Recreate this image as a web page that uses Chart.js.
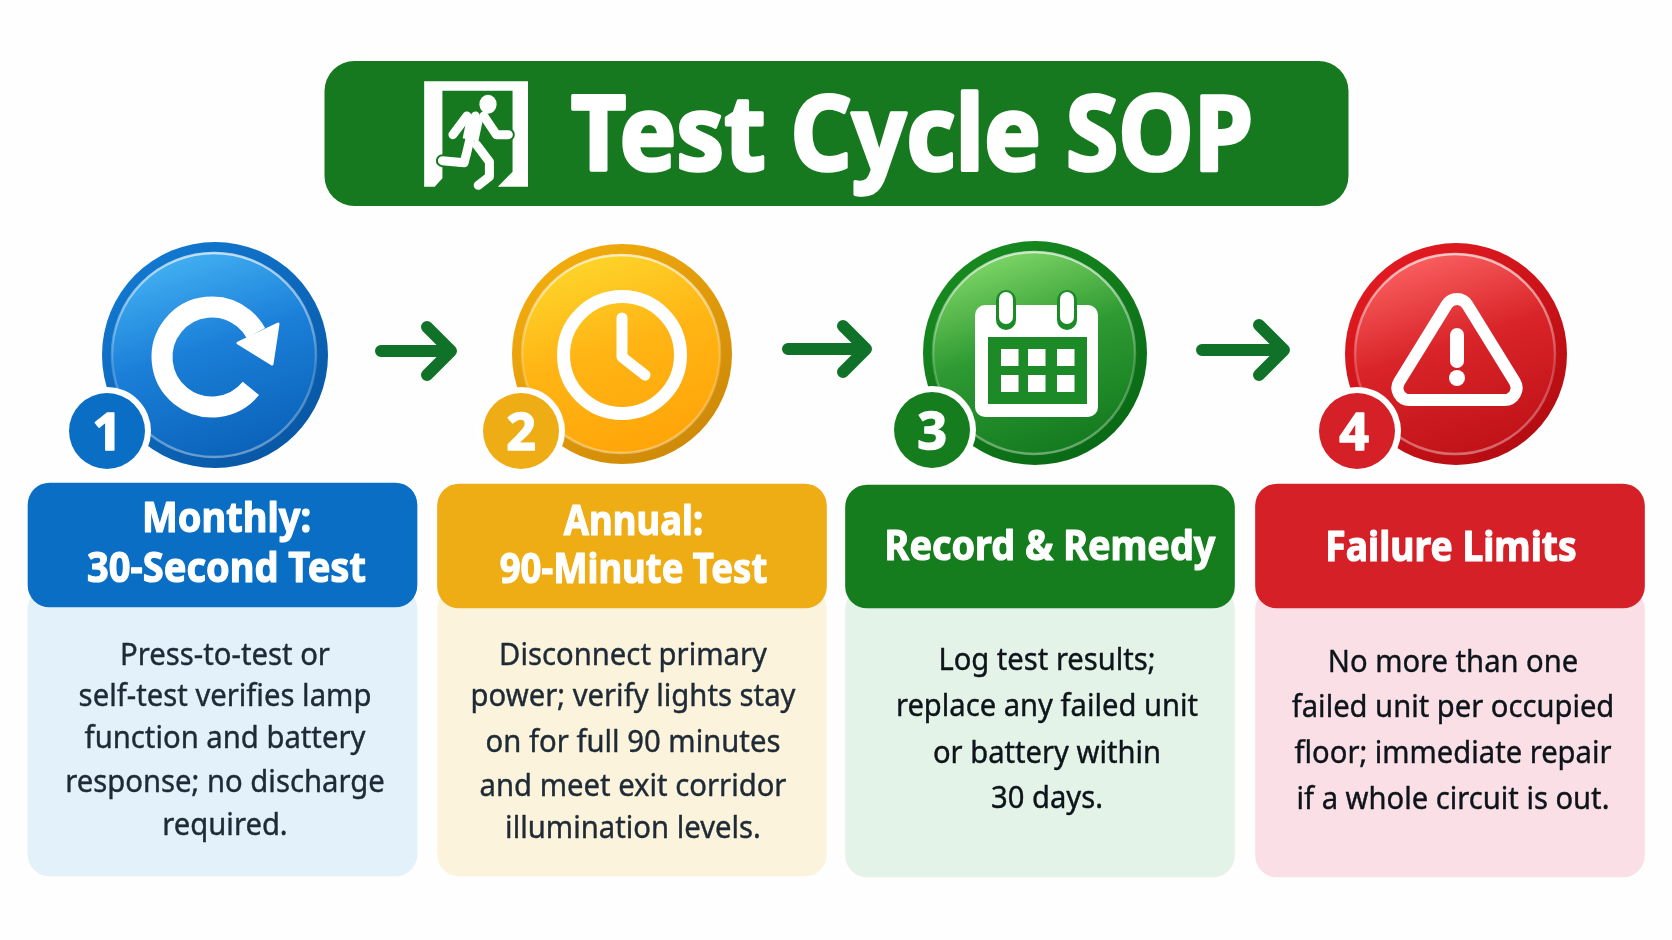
<!DOCTYPE html>
<html>
<head>
<meta charset="utf-8">
<title>Test Cycle SOP</title>
<script src="https://cdn.jsdelivr.net/npm/chart.js@4/dist/chart.umd.min.js"></script>
<style>
  html, body { margin: 0; padding: 0; background: #fefefe; }
  canvas { display: block; }
</style>
</head>
<body>
<canvas id="myChart" width="1672" height="940"></canvas>
<script>
// text
const sheetTitle = 'Test Cycle SOP';
const stepNumbers = ['1', '2', '3', '4'];
const stepTitles = [
  ['Monthly:', '30-Second Test'],
  ['Annual:', '90-Minute Test'],
  ['Record & Remedy'],
  ['Failure Limits'],
];
const stepNotes = [
  ['Press-to-test or', 'self-test verifies lamp', 'function and battery', 'response; no discharge', 'required.'],
  ['Disconnect primary', 'power; verify lights stay', 'on for full 90 minutes', 'and meet exit corridor', 'illumination levels.'],
  ['Log test results;', 'replace any failed unit', 'or battery within', '30 days.'],
  ['No more than one', 'failed unit per occupied', 'floor; immediate repair', 'if a whole circuit is out.'],
];

// layout, the hidden axes run in page units
const panelX = [222.5, 632, 1040, 1450];
const headTop = [483, 484, 485, 484];
const headBottom = [607, 608, 608, 608];
const bodyBottom = [876, 876, 877, 877];
const medalX = [215, 622, 1035, 1456];
const medalY = [355, 354, 353, 354];
const medalR = [113, 110, 112, 111];
const badgeX = [107, 521, 932, 1357];
const badgeY = [431, 431, 430, 431];
const numberNudge = [0, 0, 0, -3];
const arrowStart = [381, 788, 1202];
const arrowTip = [455, 870, 1288];
const arrowY = [351, 349, 350];
const arrowHead = [24, 23, 25];
const bannerX = [836.5];
const bannerY = [61, 206];

const titleBaselines = [[532, 582], [535, 583], [560], [561]];
const titleX = [226.5, 633.5, 1050, 1451];
const titleFit = [0.905, 0.868, 0.90, 0.887];
const noteBaselines = [
  [665, 706, 748, 792, 835],
  [665, 706, 752, 796, 838],
  [670, 716, 763, 808],
  [672, 717, 763, 809],
];
const noteX = [225, 633, 1047, 1453];
const noteFit = [0.975, 0.975, 0.972, 0.972];

// colours
const headColors = ['#0a6fc4', '#eeac15', '#167d1f', '#d42026'];
const bodyColors = ['#e3f1fb', '#fbf3dc', '#e3f3e8', '#fae0e6'];
const noteColors = ['#1e2a35', '#1e2a35', '#0d141a', '#0d141a'];
const rimColors = [['#1177cf', '#0858a6'], ['#f2ab0c', '#cf8a08'], ['#17891f', '#0a6a15'], ['#e01a20', '#b50d12']];
const faceColors = [
  ['#42b0f2', '#1b7fd8', '#0a62b8'],
  ['#fdd52a', '#ffb515', '#ffa408'],
  ['#7ed566', '#2e9a32', '#137a1f'],
  ['#fa6060', '#d92429', '#bf1217'],
];
const bannerColor = '#17791f';
const arrowColor = '#107228';

const ctx = document.getElementById('myChart').getContext('2d');

function barSet(tops, bottoms, colors, radius, order) {
  return {
    type: 'bar',
    data: panelX.map((x, i) => ({ x: x, y: [tops[i], bottoms[i]] })),
    backgroundColor: colors,
    barThickness: 389,
    grouped: false,
    borderSkipped: false,
    borderRadius: radius,
    order: order,
  };
}

// arrows as broken lines: shaft, then head
function arrowPoints() {
  const pts = [];
  arrowStart.forEach((x, i) => {
    const tip = arrowTip[i], y = arrowY[i], h = arrowHead[i];
    pts.push({ x: x, y: y }, { x: tip - 4, y: y }, { x: NaN, y: NaN });
    pts.push({ x: tip - 4 - h, y: y - h }, { x: tip - 4, y: y }, { x: tip - 4 - h, y: y + h }, { x: NaN, y: NaN });
  });
  return pts;
}

function roundedBanner(chart) {
  const { x, y } = chart.scales;
  const c = chart.ctx;
  const left = x.getPixelForValue(bannerX[0] - 512), width = 1024;
  c.fillStyle = bannerColor;
  c.beginPath();
  c.roundRect(left, y.getPixelForValue(bannerY[0]), width, y.getPixelForValue(bannerY[1]) - y.getPixelForValue(bannerY[0]), 30);
  c.fill();
}

function exitIcon(c) {
  // coordinates measured off a crop, so map them back to the page
  const zx = v => v / 1.4255 + 300, zy = v => v / 3 + 40;
  const poly = (pts) => {
    c.beginPath();
    pts.forEach((p, i) => i ? c.lineTo(zx(p[0]), zy(p[1])) : c.moveTo(zx(p[0]), zy(p[1])));
  };
  c.fillStyle = '#fff';
  poly([[177, 124], [325, 124], [325, 440], [282, 440], [303, 395], [303, 152], [203, 152], [203, 415], [192, 440], [177, 440]]);
  c.closePath();
  c.fill();
  c.lineCap = 'round';
  c.lineJoin = 'round';
  const limbs = [
    [[238, 228], [218, 284]],
    [[262, 228], [280, 284], [297, 284]],
    [[250, 228], [238, 335], [234, 368], [203, 362]],
    [[252, 315], [270, 365], [270, 410], [254, 436]],
  ];
  [[bannerColor, 13], ['#fff', 9]].forEach(([color, w]) => {
    c.strokeStyle = color;
    c.lineWidth = w;
    limbs.forEach(l => { poly(l); c.stroke(); });
  });
  c.strokeStyle = '#fff';
  c.lineWidth = 16;
  c.lineCap = 'butt';
  poly([[250, 230], [243, 300]]);
  c.stroke();
  c.beginPath();
  c.ellipse(zx(268), zy(193), 8.6, 9.5, 0, 0, Math.PI * 2);
  c.fill();
}

function refreshIcon(c, cx, cy) {
  c.strokeStyle = '#fff';
  c.fillStyle = '#fff';
  c.lineWidth = 21;
  c.lineCap = 'butt';
  c.beginPath();
  c.arc(cx - 3, cy + 2, 50, 0.68, -0.5 + Math.PI * 2);
  c.stroke();
  c.lineJoin = 'round';
  c.lineWidth = 3;
  c.beginPath();
  c.moveTo(cx + 63, cy - 31);
  c.lineTo(cx + 57, cy + 9);
  c.lineTo(cx + 23, cy - 12);
  c.closePath();
  c.fill();
  c.stroke();
}

function clockIcon(c, cx, cy) {
  c.strokeStyle = '#fff';
  c.lineWidth = 13;
  c.beginPath();
  c.arc(cx, cy + 1, 58.5, 0, Math.PI * 2);
  c.stroke();
  c.lineWidth = 11;
  c.lineCap = 'round';
  c.lineJoin = 'round';
  c.beginPath();
  c.moveTo(cx, cy - 36);
  c.lineTo(cx, cy + 3);
  c.lineTo(cx + 23, cy + 21);
  c.stroke();
}

function calendarIcon(c, cx, cy) {
  c.fillStyle = '#fff';
  c.beginPath();
  c.roundRect(cx - 60, cy - 48, 123, 112, 10);
  c.fill();
  c.fillStyle = '#1c8a26';
  c.fillRect(cx - 47, cy - 16, 99, 67);
  c.fillStyle = '#fff';
  [-34, -7, 22].forEach(dx => [-4, 22].forEach(dy => c.fillRect(cx + dx, cy + dy, 17.5, 17)));
  [-29, 32].forEach(dx => {
    c.beginPath();
    c.roundRect(cx + dx - 10, cy - 63, 20, 40, 10);
    c.fillStyle = '#1c8a26';
    c.fill();
    c.beginPath();
    c.roundRect(cx + dx - 7, cy - 61, 14, 32, 7);
    c.fillStyle = '#fff';
    c.fill();
  });
}

function warningIcon(c, cx, cy) {
  c.strokeStyle = '#fff';
  c.fillStyle = '#fff';
  c.lineWidth = 12;
  c.lineJoin = 'round';
  const top = [cx + 1, cy - 66], right = [cx + 70, cy + 46], left = [cx - 68, cy + 46];
  c.beginPath();
  c.moveTo((top[0] + left[0]) / 2, (top[1] + left[1]) / 2);
  c.arcTo(top[0], top[1], right[0], right[1], 12);
  c.arcTo(right[0], right[1], left[0], left[1], 12);
  c.arcTo(left[0], left[1], top[0], top[1], 12);
  c.closePath();
  c.stroke();
  c.beginPath();
  c.roundRect(cx - 6, cy - 26, 14, 40, 7);
  c.fill();
  c.beginPath();
  c.arc(cx + 1, cy + 24, 8, 0, Math.PI * 2);
  c.fill();
}

const icons = [refreshIcon, clockIcon, calendarIcon, warningIcon];

const sheetArt = {
  id: 'sheetArt',
  beforeDatasetsDraw(chart) {
    chart.ctx.save();
    roundedBanner(chart);
    chart.ctx.restore();
  },
  afterDatasetsDraw(chart) {
    const { x, y } = chart.scales;
    const c = chart.ctx;
    c.save();

    exitIcon(c);
    c.fillStyle = '#fff';
    c.strokeStyle = '#fff';
    c.lineJoin = 'round';
    c.textAlign = 'left';
    c.textBaseline = 'alphabetic';
    c.font = 'bold 104px "Noto Sans"';
    c.lineWidth = 3.5;
    c.fillText(sheetTitle, 571, y.getPixelForValue(170), 682);
    c.strokeText(sheetTitle, 571, y.getPixelForValue(170), 682);

    // medals: rim gradient, face, highlight, icon, then the number badge over the top
    medalX.forEach((mx, i) => {
      const px = x.getPixelForValue(mx), py = y.getPixelForValue(medalY[i]), r = medalR[i];
      const rim = c.createLinearGradient(px - r * 0.6, py - r * 0.8, px + r * 0.6, py + r * 0.8);
      rim.addColorStop(0, rimColors[i][0]);
      rim.addColorStop(1, rimColors[i][1]);
      c.fillStyle = rim;
      c.beginPath();
      c.arc(px, py, r, 0, Math.PI * 2);
      c.fill();

      const face = c.createLinearGradient(px - r * 0.3, py - r * 0.9, px + r * 0.3, py + r * 0.9);
      face.addColorStop(0, faceColors[i][0]);
      face.addColorStop(0.45, faceColors[i][1]);
      face.addColorStop(1, faceColors[i][2]);
      c.fillStyle = face;
      c.beginPath();
      c.arc(px - 1, py, r - 11, 0, Math.PI * 2);
      c.fill();
      const shine = c.createLinearGradient(px, py - r, px, py + r);
      shine.addColorStop(0, 'rgba(255,255,255,0.75)');
      shine.addColorStop(0.55, 'rgba(255,255,255,0.2)');
      shine.addColorStop(1, 'rgba(255,255,255,0.4)');
      c.strokeStyle = shine;
      c.lineWidth = 2.5;
      c.stroke();

      c.save();
      icons[i](c, px, py);
      c.restore();

      const bx = x.getPixelForValue(badgeX[i]), by = y.getPixelForValue(badgeY[i]);
      c.fillStyle = '#fff';
      c.beginPath();
      c.arc(bx, by, 44, 0, Math.PI * 2);
      c.fill();
      c.fillStyle = headColors[i];
      c.beginPath();
      c.arc(bx, by, 38, 0, Math.PI * 2);
      c.fill();
      c.fillStyle = '#fff';
      c.strokeStyle = '#fff';
      c.lineWidth = 1.5;
      c.font = 'bold 52px "Noto Sans"';
      c.textAlign = 'center';
      c.fillText(stepNumbers[i], bx + numberNudge[i], by + 19);
      c.strokeText(stepNumbers[i], bx + numberNudge[i], by + 19);
    });

    // panel text, a thin stroke gives the heavier weight of the original
    stepTitles.forEach((lines, i) => {
      c.fillStyle = '#fff';
      c.strokeStyle = '#fff';
      c.lineWidth = 1.2;
      c.font = 'bold 42px "Noto Sans"';
      lines.forEach((line, k) => {
        const w = c.measureText(line).width * titleFit[i];
        c.fillText(line, x.getPixelForValue(titleX[i]), y.getPixelForValue(titleBaselines[i][k]), w);
        c.strokeText(line, x.getPixelForValue(titleX[i]), y.getPixelForValue(titleBaselines[i][k]), w);
      });
    });
    stepNotes.forEach((lines, i) => {
      c.fillStyle = noteColors[i];
      c.strokeStyle = noteColors[i];
      c.lineWidth = 0.4;
      c.font = '30px "Noto Sans"';
      lines.forEach((line, k) => {
        const w = c.measureText(line).width * noteFit[i];
        c.fillText(line, x.getPixelForValue(noteX[i]), y.getPixelForValue(noteBaselines[i][k]), w);
        c.strokeText(line, x.getPixelForValue(noteX[i]), y.getPixelForValue(noteBaselines[i][k]), w);
      });
    });
    c.restore();
  }
};

const myChart = new Chart(ctx, {
  type: 'bar',
  data: {
    datasets: [
      barSet(headTop, headBottom, headColors, 22, 1),
      barSet(headBottom.map(v => v - 20), bodyBottom, bodyColors, 22, 2),
      {
        type: 'line',
        data: arrowPoints(),
        borderColor: arrowColor,
        borderWidth: 12,
        borderCapStyle: 'round',
        borderJoinStyle: 'round',
        pointRadius: 0,
        spanGaps: false,
        order: 0,
      },
    ],
  },
  plugins: [sheetArt],
  options: {
    responsive: false,
    animation: false,
    devicePixelRatio: 1,
    layout: { padding: 0 },
    events: [],
    plugins: { legend: { display: false }, tooltip: { enabled: false }, title: { display: false } },
    scales: {
      x: { type: 'linear', min: 0, max: 1672, offset: false, display: false },
      y: { type: 'linear', min: 0, max: 940, reverse: true, display: false },
    },
  },
});
</script>
</body>
</html>
